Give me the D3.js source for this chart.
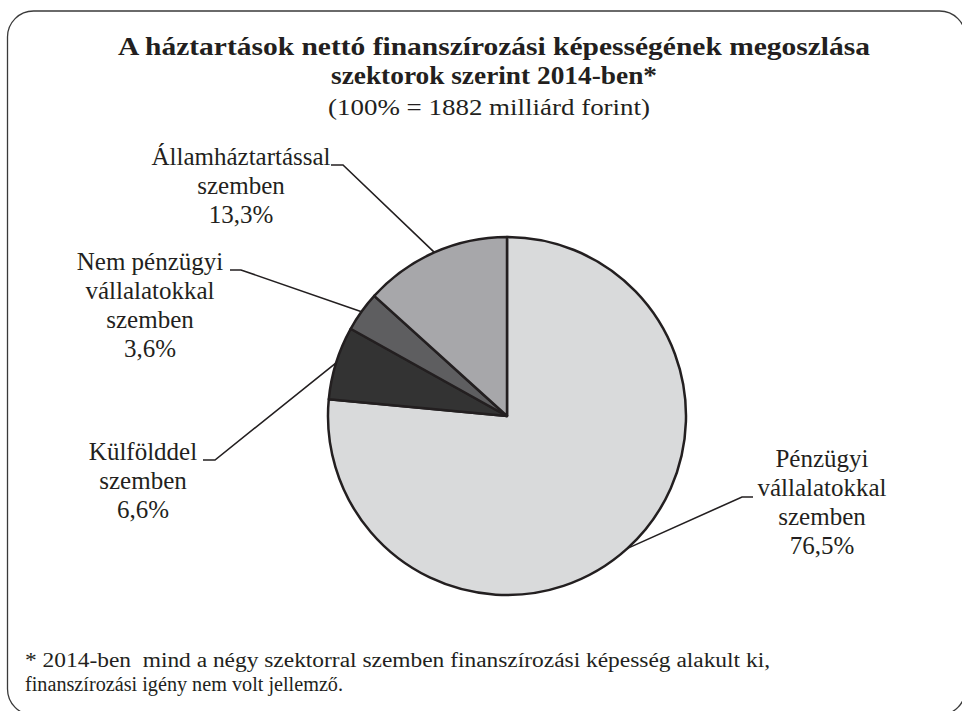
<!DOCTYPE html>
<html>
<head>
<meta charset="utf-8">
<script src="https://cdnjs.cloudflare.com/ajax/libs/d3/7.8.5/d3.min.js"></script>
<style>
  html, body { margin: 0; padding: 0; background: #fff; }
</style>
</head>
<body>
<svg id="chart" width="962" height="711"></svg>
<script>
// Data
const categories = [
  'Pénzügyi vállalatokkal szemben',
  'Külfölddel szemben',
  'Nem pénzügyi vállalatokkal szemben',
  'Államháztartással szemben'
];
const labelLines = [
  ['Pénzügyi', 'vállalatokkal', 'szemben'],
  ['Külfölddel', 'szemben'],
  ['Nem pénzügyi', 'vállalatokkal', 'szemben'],
  ['Államháztartással', 'szemben']
];
const shares = [76.5, 6.6, 3.6, 13.3];
const sliceColors = ['#d9dadb', '#333333', '#5e5e60', '#a7a7aa'];

const titleLines = [
  'A háztartások nettó finanszírozási képességének megoszlása',
  'szektorok szerint 2014-ben*'
];
const subtitle = '(100% = 1882 milliárd forint)';
const footnoteLines = [
  '* 2014-ben  mind a négy szektorral szemben finanszírozási képesség alakult ki,',
  'finanszírozási igény nem volt jellemző.'
];

// Hungarian number format (decimal comma)
const huFormat = d3.formatLocale({ decimal: ',', thousands: ' ', grouping: [3], currency: ['', ' Ft'] });
const fmtPct = v => huFormat.format('.1f')(v) + '%';

const FONT = '"Liberation Serif", Tinos, "Times New Roman", serif';
const ink = '#231f20';
const svg = d3.select('#chart');

// rounded frame, running off the right and bottom edges
svg.append('rect')
  .attr('x', 7.5).attr('y', 11)
  .attr('width', 958).attr('height', 704)
  .attr('rx', 26).attr('ry', 26)
  .attr('fill', 'none')
  .attr('stroke', '#3a3a3a')
  .attr('stroke-width', 1.3);

// titles
const titleG = svg.append('g').attr('text-anchor', 'middle');
const titleWidths = [752, 326];
titleLines.forEach((t, i) => {
  titleG.append('text')
    .attr('x', 494).attr('y', 55 + i * 29)
    .style('font-family', FONT).style('font-size', '26px').style('font-weight', 'bold')
    .attr('fill', ink)
    .attr('textLength', titleWidths[i]).attr('lengthAdjust', 'spacingAndGlyphs')
    .text(t);
});
titleG.append('text')
  .attr('x', 489).attr('y', 115)
  .style('font-family', FONT).style('font-size', '24px')
  .attr('fill', ink)
  .attr('textLength', 322).attr('lengthAdjust', 'spacingAndGlyphs')
  .text(subtitle);

// pie
const cx = 507, cy = 416, r = 179;
const pie = d3.pie().sort(null).value(d => d)(shares);
const arc = d3.arc().innerRadius(0).outerRadius(r);

const g = svg.append('g').attr('transform', 'translate(' + cx + ',' + cy + ')');
g.selectAll('path.slice')
  .data(pie)
  .join('path')
    .attr('class', 'slice')
    .attr('d', arc)
    .attr('fill', (d, i) => sliceColors[i])
    .attr('stroke', ink)
    .attr('stroke-width', 2.5)
    .attr('stroke-linejoin', 'round');

// label layout: text centre, first baseline, horizontal tick of the leader
const labelLayout = [
  { x: 822, y: 467, hx0: 753, hx1: 742, hy: 497 },
  { x: 143, y: 460, hx0: 203, hx1: 215, hy: 460 },
  { x: 150, y: 270, hx0: 230, hx1: 241, hy: 270 },
  { x: 241, y: 165, hx0: 331, hx1: 343, hy: 165 }
];
const lineH = 29;

pie.forEach((d, i) => {
  const lay = labelLayout[i];
  const mid = (d.startAngle + d.endAngle) / 2;
  const ex = cx + r * Math.sin(mid);
  const ey = cy - r * Math.cos(mid);

  svg.append('path')
    .attr('d', d3.line()([[lay.hx0, lay.hy], [lay.hx1, lay.hy], [ex, ey]]))
    .attr('fill', 'none')
    .attr('stroke', ink)
    .attr('stroke-width', 1.6);

  labelLines[i].concat([fmtPct(shares[i])]).forEach((s, j) => {
    svg.append('text')
      .attr('text-anchor', 'middle')
      .attr('x', lay.x)
      .attr('y', lay.y + j * lineH)
      .style('font-family', FONT).style('font-size', '25px')
      .attr('fill', ink)
      .text(s);
  });
});

// footnote
const footWidths = [745, 318];
footnoteLines.forEach((s, i) => {
  svg.append('text')
    .attr('x', 25).attr('y', 667 + i * 24)
    .style('font-family', FONT).style('font-size', '20px')
    .style('white-space', 'pre')
    .attr('fill', ink)
    .attr('textLength', footWidths[i]).attr('lengthAdjust', 'spacingAndGlyphs')
    .text(s);
});
</script>
</body>
</html>
